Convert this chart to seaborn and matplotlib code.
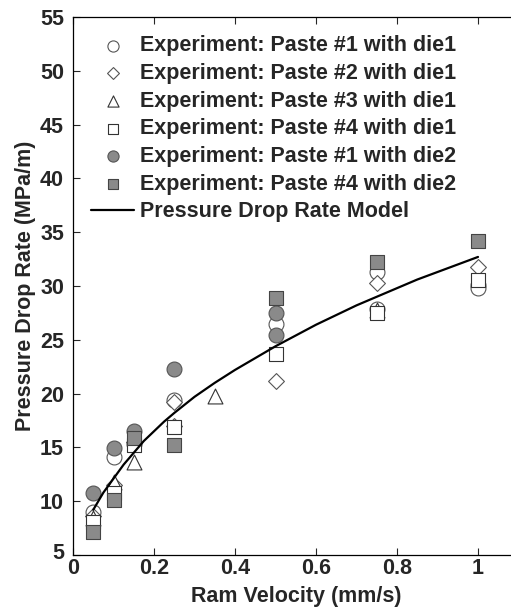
import matplotlib
matplotlib.use("Agg")
import matplotlib.pyplot as plt
import matplotlib.transforms as mtransforms
import seaborn as sns
import pandas as pd

# ---- data ----
p1_d1_x = [0.05, 0.10, 0.15, 0.25, 0.50, 0.75, 0.75, 1.00, 1.00]
p1_d1_y = [9.0, 14.1, 15.3, 19.4, 26.5, 31.3, 27.9, 30.1, 29.8]

p2_d1_x = [0.05, 0.10, 0.15, 0.25, 0.25, 0.50, 0.75, 1.00]
p2_d1_y = [8.6, 11.5, 15.5, 19.2, 17.0, 21.2, 30.3, 31.8]

p3_d1_x = [0.05, 0.10, 0.15, 0.35, 0.75]
p3_d1_y = [8.4, 11.8, 13.6, 19.8, 27.8]

p4_d1_x = [0.05, 0.10, 0.15, 0.25, 0.50, 0.75, 1.00]
p4_d1_y = [8.1, 10.8, 15.2, 16.9, 23.7, 27.5, 30.55]

p1_d2_x = [0.05, 0.10, 0.15, 0.25, 0.50, 0.50]
p1_d2_y = [10.8, 14.9, 16.5, 22.3, 27.5, 25.4]

p4_d2_x = [0.05, 0.10, 0.15, 0.25, 0.50, 0.75, 1.00]
p4_d2_y = [7.1, 10.1, 15.9, 15.2, 28.85, 32.2, 34.2]

model_x = [0.05, 0.075, 0.10, 0.125, 0.15, 0.175, 0.20, 0.225, 0.25, 0.30,
           0.35, 0.40, 0.45, 0.50, 0.55, 0.60, 0.65, 0.70, 0.75, 0.80,
           0.85, 0.90, 0.95, 1.00]
model_y = [9.2, 10.8, 12.1, 13.4, 14.5, 15.6, 16.5, 17.4, 18.2, 19.7,
           21.0, 22.2, 23.3, 24.4, 25.4, 26.4, 27.3, 28.2, 29.0, 29.8,
           30.6, 31.3, 32.0, 32.7]

labels = ["Experiment: Paste #1 with die1",
          "Experiment: Paste #2 with die1",
          "Experiment: Paste #3 with die1",
          "Experiment: Paste #4 with die1",
          "Experiment: Paste #1 with die2",
          "Experiment: Paste #4 with die2"]
model_label = "Pressure Drop Rate Model"

x_ticks = [0, 0.2, 0.4, 0.6, 0.8, 1]
x_tick_labels = ["0", "0.2", "0.4", "0.6", "0.8", "1"]
y_ticks = [5, 10, 15, 20, 25, 30, 35, 40, 45, 50, 55]

# ---- styling ----
sns.set_theme(style="ticks")
plt.rcParams['font.family'] = ['Liberation Sans', 'DejaVu Sans']
plt.rcParams['font.weight'] = 'bold'

FS = 15.5

fig = plt.figure(figsize=(5.11, 6.09), dpi=100)
ax = fig.add_axes([73/511, 54/609, 445.5/511, 538/609])

series = [
    (p1_d1_x, p1_d1_y, "o", "white", "#555555"),
    (p2_d1_x, p2_d1_y, "D", "white", "#555555"),
    (p3_d1_x, p3_d1_y, "^", "white", "#333333"),
    (p4_d1_x, p4_d1_y, "s", "white", "#333333"),
    (p1_d2_x, p1_d2_y, "o", "#8a8a8a", "#555555"),
    (p4_d2_x, p4_d2_y, "s", "#8a8a8a", "#444444"),
]
sizes = {"o": 115, "D": 65, "^": 115, "s": 90}

for (xs, ys, m, fc, ec), lab in zip(series, labels):
    df = pd.DataFrame({"x": xs, "y": ys})
    sns.scatterplot(data=df, x="x", y="y", marker=m, s=sizes[m],
                    color=fc, edgecolor=ec, linewidth=0.8, ax=ax,
                    label=lab, zorder=3)

mdf = pd.DataFrame({"x": model_x, "y": model_y})
sns.lineplot(data=mdf, x="x", y="y", color="black", linewidth=1.6,
             ax=ax, label=model_label, zorder=4)

ax.set_xlim(0, 1.1)
ax.set_ylim(5, 55)
ax.set_xticks(x_ticks)
ax.set_xticklabels(x_tick_labels)
ax.set_yticks(y_ticks)
ax.tick_params(axis="both", direction="in", length=5, width=0.8,
               labelsize=FS, top=True, right=True)
ax.tick_params(axis="x", pad=2)
ax.tick_params(axis="y", pad=6.5)
for lab in ax.get_xticklabels() + ax.get_yticklabels():
    lab.set_fontweight("bold")
# the lowest y label sits slightly above its tick, as in the reference
ylab0 = ax.get_yticklabels()[0]
ylab0.set_transform(ylab0.get_transform() +
                    mtransforms.ScaledTranslation(0, 4/100, fig.dpi_scale_trans))
for sp in ax.spines.values():
    sp.set_linewidth(0.9)
    sp.set_color("black")

ax.set_xlabel("Ram Velocity (mm/s)", fontsize=FS, fontweight="bold", labelpad=5)
ax.set_ylabel("Pressure Drop Rate (MPa/m)", fontsize=FS, fontweight="bold", labelpad=2.5)

leg = ax.legend(loc="upper left", frameon=False,
                handlelength=2.0, handletextpad=0.25, labelspacing=0.31,
                borderaxespad=0.45, markerscale=0.75,
                prop={"weight": "bold", "size": FS})

fig.savefig("out.png", dpi=100)
